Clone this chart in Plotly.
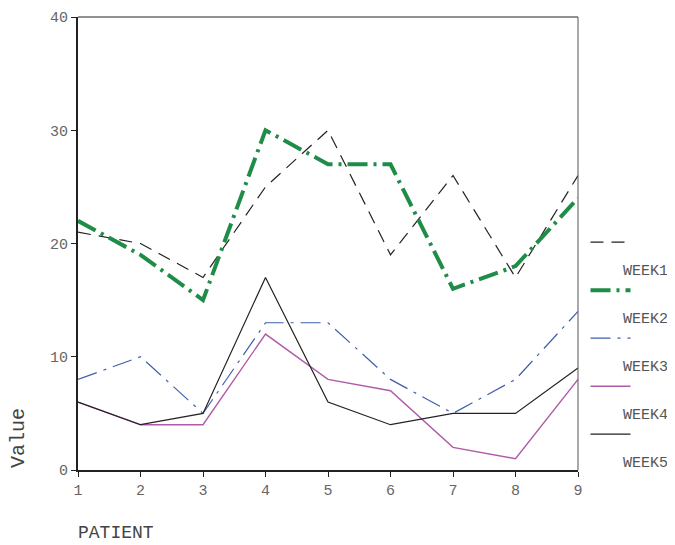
import plotly.graph_objects as go

patients = [1, 2, 3, 4, 5, 6, 7, 8, 9]
series_names = ["WEEK1", "WEEK2", "WEEK3", "WEEK4", "WEEK5"]
week1 = [21, 20, 17, 25, 30, 19, 26, 17, 26]
week2 = [22, 19, 15, 30, 27, 27, 16, 18, 24]
week3 = [8, 10, 5, 13, 13, 8, 5, 8, 14]
week4 = [6, 4, 4, 12, 8, 7, 2, 1, 8]
week5 = [6, 4, 5, 17, 6, 4, 5, 5, 9]
y_ticks = [0, 10, 20, 30, 40]

values = [week1, week2, week3, week4, week5]
styles = [
    dict(color="#222222", width=1.2, dash="13px,8px"),
    dict(color="#1f8c47", width=4, dash="20px,6px,3px,6px"),
    dict(color="#3f5fad", width=1.2, dash="20px,7px,3px,7px"),
    dict(color="#b05aa8", width=1.4, dash="solid"),
    dict(color="#222222", width=1.2, dash="solid"),
]

FONT = "Liberation Mono, Courier New, monospace"
fig = go.Figure()
for name, v, st in zip(series_names, values, styles):
    fig.add_trace(go.Scatter(x=patients, y=v, mode="lines", name=name,
                             line=st, showlegend=False))

# manual legend (line sample above, label below-right)
shapes = []
annotations = []
for i, (name, st) in enumerate(zip(series_names, styles)):
    ys = 0.503 - i * 0.106
    shapes.append(dict(type="line", xref="paper", yref="paper",
                       x0=1.025, x1=1.105, y0=ys, y1=ys,
                       line=dict(color=st["color"], width=st["width"],
                                 dash=st["dash"])))
    annotations.append(dict(text=name, xref="paper", yref="paper",
                            x=1.086, y=ys - 0.064, xanchor="left", yanchor="middle",
                            showarrow=False,
                            font=dict(family=FONT, size=15, color="#555555")))

annotations.append(dict(text="PATIENT", xref="paper", yref="paper", x=-0.004, y=-0.139,
                        xanchor="left", yanchor="middle", showarrow=False,
                        font=dict(family=FONT, size=18, color="#444444")))
annotations.append(dict(text="Value", xref="paper", yref="paper", x=-0.12, y=0.0,
                        xanchor="center", yanchor="bottom", textangle=-90,
                        showarrow=False,
                        font=dict(family=FONT, size=20, color="#444444")))

# top and right thin frame
shapes.append(dict(type="line", xref="paper", yref="paper", x0=0, x1=1, y0=1, y1=1,
                   line=dict(color="#222222", width=1)))
shapes.append(dict(type="line", xref="paper", yref="paper", x0=1, x1=1, y0=0, y1=1,
                   line=dict(color="#555555", width=1)))

# page body has an 8px default margin, so the figure is sized/offset to compensate
fig.update_layout(
    width=667, height=537,
    margin=dict(l=70, r=97, t=9, b=75, autoexpand=False),
    plot_bgcolor="white", paper_bgcolor="white",
    font=dict(family=FONT, size=16, color="#666666"),
    xaxis=dict(range=[1, 9], tickvals=patients, showgrid=False, zeroline=False,
               showline=True, linecolor="#222222", linewidth=2,
               ticks="outside", ticklen=5, tickcolor="#222222",
               tickfont=dict(family=FONT, size=15, color="#666666")),
    yaxis=dict(range=[0, 40], tickvals=y_ticks, showgrid=False, zeroline=False,
               showline=True, linecolor="#222222", linewidth=2,
               ticks="outside", ticklen=5, tickcolor="#222222",
               tickfont=dict(family=FONT, size=15, color="#666666")),
    shapes=shapes, annotations=annotations,
)
fig.write_html("out.html")
